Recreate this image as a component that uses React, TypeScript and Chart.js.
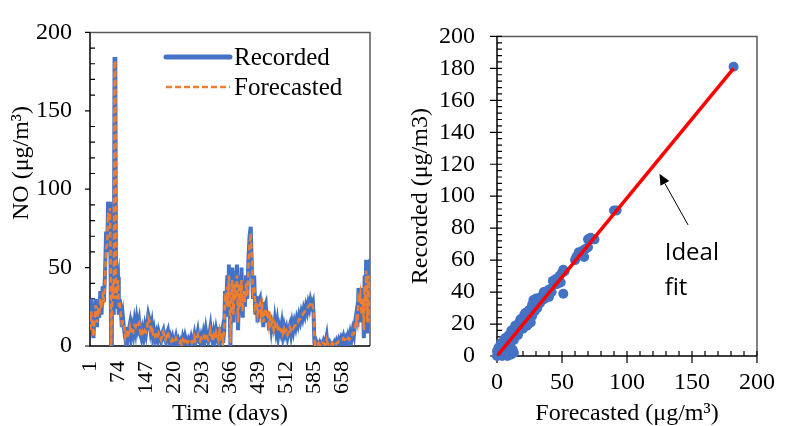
import React, { useEffect, useRef } from "react";
import { Chart, registerables } from "chart.js";
Chart.register(...registerables);

// ---- Time series (left panel) ----
const days = [
  1, 4, 7, 10, 13, 16, 19, 22, 25, 28,
  31, 34, 37, 40, 43, 46, 48, 51, 53, 55,
  56, 58, 61, 63, 65, 67, 69, 71, 74, 76,
  78, 81, 84, 87, 90, 93, 96, 99, 102, 105,
  108, 111, 114, 117, 120, 123, 126, 129, 132, 135,
  138, 141, 144, 147, 150, 153, 156, 159, 162, 165,
  168, 171, 174, 177, 180, 183, 186, 189, 192, 195,
  198, 201, 204, 207, 210, 213, 216, 219, 222, 225,
  228, 231, 234, 237, 240, 243, 246, 249, 252, 255,
  258, 261, 264, 267, 270, 273, 276, 279, 282, 285,
  288, 291, 294, 297, 300, 303, 306, 309, 312, 315,
  318, 321, 324, 327, 330, 333, 336, 339, 342, 345,
  348, 351, 353, 356, 359, 361, 363, 365, 367, 369,
  372, 375, 378, 381, 384, 387, 390, 393, 396, 399,
  402, 405, 408, 411, 414, 417, 420, 423, 426, 429,
  432, 435, 438, 441, 444, 447, 450, 453, 456, 459,
  462, 465, 468, 471, 474, 477, 480, 483, 486, 489,
  492, 495, 498, 501, 504, 507, 510, 513, 516, 519,
  522, 525, 528, 531, 534, 537, 540, 543, 546, 549,
  552, 555, 558, 561, 564, 567, 570, 573, 576, 579,
  582, 584, 586, 588, 591, 594, 597, 600, 603, 606,
  609, 612, 615, 618, 620, 623, 626, 629, 632, 635,
  638, 641, 644, 647, 650, 653, 656, 659, 662, 665,
  668, 671, 674, 677, 680, 683, 686, 689, 692, 695,
  698, 701, 703, 706, 709, 712, 715, 717, 719, 721,
  724, 727, 731,
];

const recorded = [
  30, 29, 12, 5, 22, 30, 12, 28, 18, 35,
  20, 38, 28, 45, 73, 60, 92, 88, 92, 40,
  0, 30, 45, 20, 183, 183, 25, 40, 44, 20,
  30, 25, 12, 18, 10, 5, 12, 4, 10, 14,
  6, 12, 8, 15, 10, 17, 12, 16, 8, 5,
  10, 6, 12, 8, 14, 20, 17, 10, 14, 6,
  10, 5, 8, 4, 9, 6, 3, 8, 10, 5,
  3, 8, 10, 4, 6, 2, 5, 1, 3, 6,
  2, 4, 1, 3, 0, 5, 2, 6, 3, 1,
  4, 2, 5, 1, 3, 7, 2, 5, 9, 3,
  2, 6, 3, 8, 4, 10, 5, 3, 7, 12,
  5, 2, 8, 4, 10, 6, 3, 12, 5, 9,
  2, 10, 35, 25, 45, 20, 52, 30, 0, 30,
  50, 15, 48, 25, 52, 10, 45, 20, 50, 18,
  38, 25, 45, 30, 55, 70, 76, 50, 30, 45,
  20, 32, 15, 28, 30, 18, 28, 12, 25, 27,
  15, 22, 10, 20, 12, 18, 8, 16, 10, 15,
  7, 12, 9, 14, 7, 12, 8, 11, 6, 10,
  13, 8, 14, 10, 15, 12, 17, 14, 19, 16,
  21, 18, 23, 20, 25, 22, 27, 24, 29, 26,
  28, 20, 2, 0, 3, 1, 0, 2, 0, 1,
  3, 0, 2, 6, 1, 0, 2, 0, 1, 0,
  2, 0, 3, 1, 4, 2, 5, 3, 6, 3,
  5, 2, 6, 3, 8, 5, 10, 7, 15, 20,
  12, 37, 25, 37, 15, 35, 5, 45, 20, 55,
  8, 52, 55,
];

const forecasted = [
  10, 22, 15, 6, 18, 26, 15, 22, 20, 30,
  24, 32, 30, 38, 62, 65, 85, 80, 88, 50,
  0, 20, 40, 30, 180, 182, 30, 35, 42, 25,
  28, 22, 14, 15, 12, 6, 10, 5, 8, 12,
  8, 10, 9, 13, 12, 15, 14, 15, 9, 6,
  9, 7, 10, 9, 12, 18, 16, 11, 13, 8,
  9, 6, 7, 5, 8, 6, 4, 7, 9, 6,
  4, 7, 9, 5, 5, 3, 4, 2, 3, 5,
  3, 3, 2, 3, 1, 4, 3, 5, 3, 2,
  3, 3, 4, 2, 3, 6, 3, 4, 7, 4,
  3, 5, 4, 6, 5, 8, 6, 4, 6, 10,
  6, 3, 7, 5, 9, 7, 4, 10, 6, 8,
  3, 12, 30, 28, 38, 25, 45, 35, 2, 25,
  42, 20, 40, 30, 45, 15, 40, 25, 42, 22,
  35, 28, 40, 32, 50, 65, 72, 55, 35, 38,
  25, 28, 20, 25, 27, 20, 25, 15, 22, 24,
  18, 20, 13, 18, 14, 16, 10, 14, 11, 13,
  9, 11, 10, 12, 8, 11, 9, 10, 7, 9,
  12, 10, 12, 11, 13, 13, 15, 15, 17, 17,
  19, 20, 21, 22, 23, 24, 25, 26, 27, 28,
  25, 22, 5, 1, 2, 1, 2, 1, 0, 2,
  2, 1, 1, 4, 2, 1, 1, 0, 2, 1,
  1, 0, 2, 2, 3, 3, 4, 4, 5, 4,
  4, 3, 5, 4, 6, 6, 8, 8, 12, 17,
  14, 30, 28, 33, 20, 30, 10, 38, 25, 48,
  15, 45, 15,
];

const timeTicks = [1, 74, 147, 220, 293, 366, 439, 512, 585, 658];
const timeTickLabels = ["1", "74", "147", "220", "293", "366", "439", "512", "585", "658"];

// ---- Scatter (right panel) ----
const scatterForecasted = [
  0, 1, 2, 0, 1, 3, 2, 4, 5, 6,
  3, 5, 7, 8, 9, 10, 11, 6, 4, 8,
  7, 9, 10, 8, 6, 12, 11, 12, 13, 14,
  15, 16, 17, 18, 19, 20, 21, 22, 23, 24,
  25, 13, 16, 20, 24, 26, 14, 18, 21, 26,
  27, 28, 29, 30, 31, 32, 33, 34, 35, 36,
  37, 38, 39, 40, 41, 42, 43, 44, 28, 30,
  29, 45, 46, 47, 48, 50, 51, 52, 49, 51,
  60, 61, 62, 63, 64, 66, 67, 68, 70, 70,
  72, 74, 75, 90, 92, 182, 13, 12, 9, 11,
  15, 17, 19, 22, 25, 27, 31, 34, 36, 16,
  10, 23,
];
const scatterRecorded = [
  0, 2, 1, 3, 5, 3, 6, 2, 5, 3,
  8, 9, 6, 2, 1, 3, 1, 1, 0, 0,
  9, 7, 10, 12, 11, 11, 14, 16, 13, 17,
  15, 19, 16, 20, 18, 22, 20, 25, 21, 26,
  23, 10, 13, 17, 20, 21, 19, 23, 26, 28,
  25, 31, 28, 35, 30, 36, 33, 37, 35, 38,
  36, 40, 41, 37, 42, 40, 47, 45, 35, 36,
  34, 48, 45, 47, 50, 52, 54, 53, 46, 39,
  60, 62, 63, 65, 64, 66, 62, 67, 68, 73,
  74, 73, 73, 91, 91, 181, 2, 4, 13, 16,
  18, 21, 23, 27, 29, 32, 34, 36, 40, 14,
  7, 19,
];

const fitX = [0, 182];
const fitY = [0, 180];

const arrowFrom = [147, 82];
const arrowTo = [125, 114];
const noteAt = [129, 60];
const noteLines = ["Ideal", "fit"];

const SERIF = '"Liberation Serif", "Times New Roman", serif';
const BLUE = "#4472C4";
const ORANGE = "#ED7D31";

type FrameCfg = {
  yMajor: number; yMinor: number; yOut: number; yIn: number; yMinorIn: number;
  xMajor?: number; xMinor?: number; xOut?: number; xIn?: number; xMinorIn?: number;
};

function framePlugin(cfg: FrameCfg) {
  return {
    id: "frameAxes",
    beforeDatasetsDraw(chart: any) {
      const { ctx, chartArea: a, scales } = chart;
      const xs = scales.x, ys = scales.y;
      ctx.save();
      ctx.lineCap = "butt";
      ctx.strokeStyle = "#595959";
      ctx.lineWidth = 1.5;
      ctx.beginPath();
      ctx.moveTo(a.left, a.top);
      ctx.lineTo(a.right, a.top);
      ctx.lineTo(a.right, a.bottom);
      ctx.stroke();
      ctx.strokeStyle = "#000";
      ctx.beginPath();
      ctx.moveTo(a.left, a.top);
      ctx.lineTo(a.left, a.bottom);
      ctx.lineTo(a.right, a.bottom);
      ctx.stroke();
      ctx.lineWidth = 1.2;
      ctx.beginPath();
      for (let v = ys.min; v <= ys.max; v += cfg.yMinor) {
        const py = ys.getPixelForValue(v);
        if (v % cfg.yMajor === 0) {
          ctx.moveTo(a.left - cfg.yOut, py);
          ctx.lineTo(a.left + cfg.yIn, py);
        } else {
          ctx.moveTo(a.left, py);
          ctx.lineTo(a.left + cfg.yMinorIn, py);
        }
      }
      if (cfg.xMajor && cfg.xMinor) {
        for (let v = xs.min; v <= xs.max; v += cfg.xMinor) {
          const px = xs.getPixelForValue(v);
          if (v % cfg.xMajor === 0) {
            ctx.moveTo(px, a.bottom + (cfg.xOut || 0));
            ctx.lineTo(px, a.bottom - (cfg.xIn || 0));
          } else {
            ctx.moveTo(px, a.bottom);
            ctx.lineTo(px, a.bottom - (cfg.xMinorIn || 0));
          }
        }
      }
      ctx.stroke();
      ctx.restore();
    },
  };
}

const legendPlugin = {
  id: "insideLegend",
  afterDatasetsDraw(chart: any) {
    const { ctx } = chart;
    const ds = chart.data.datasets;
    ctx.save();
    ds.forEach((d: any, i: number) => {
      const y = 57 + i * 30;
      ctx.beginPath();
      ctx.strokeStyle = d.borderColor;
      ctx.lineWidth = d.borderWidth + (i === 0 ? 1 : 0);
      ctx.lineCap = i === 0 ? "round" : "butt";
      ctx.setLineDash(d.borderDash || []);
      ctx.moveTo(166, y);
      ctx.lineTo(230, y);
      ctx.stroke();
      ctx.setLineDash([]);
      ctx.fillStyle = "#000";
      ctx.font = `25px ${SERIF}`;
      ctx.textBaseline = "middle";
      ctx.textAlign = "left";
      ctx.fillText(d.label, 234, y + 1);
    });
    ctx.restore();
  },
};

const leftTitlePlugin = {
  id: "leftYTitle",
  afterDraw(chart: any) {
    const { ctx } = chart;
    ctx.save();
    ctx.translate(22, 163);
    ctx.rotate(-Math.PI / 2);
    ctx.fillStyle = "#000";
    ctx.font = `24px ${SERIF}`;
    ctx.textAlign = "center";
    ctx.textBaseline = "middle";
    ctx.fillText("NO (\u03bcg/m\u00b3)", 0, 0);
    ctx.restore();
  },
};

const notePlugin = {
  id: "idealFitNote",
  afterDatasetsDraw(chart: any) {
    const { ctx, scales } = chart;
    const xs = scales.x, ys = scales.y;
    const x0 = xs.getPixelForValue(arrowFrom[0]), y0 = ys.getPixelForValue(arrowFrom[1]);
    const x1 = xs.getPixelForValue(arrowTo[0]), y1 = ys.getPixelForValue(arrowTo[1]);
    ctx.save();
    ctx.strokeStyle = "#000";
    ctx.fillStyle = "#000";
    ctx.lineWidth = 1;
    const ang = Math.atan2(y1 - y0, x1 - x0);
    const hl = 11, hw = 5;
    const bx = x1 - hl * Math.cos(ang), by = y1 - hl * Math.sin(ang);
    ctx.beginPath();
    ctx.moveTo(x0, y0);
    ctx.lineTo(bx, by);
    ctx.stroke();
    ctx.beginPath();
    ctx.moveTo(x1, y1);
    ctx.lineTo(bx + hw * Math.sin(ang), by - hw * Math.cos(ang));
    ctx.lineTo(bx - hw * Math.sin(ang), by + hw * Math.cos(ang));
    ctx.closePath();
    ctx.fill();
    ctx.font = '24px "Open Sans", Lato, sans-serif';
    ctx.textAlign = "left";
    ctx.textBaseline = "alphabetic";
    const tx = xs.getPixelForValue(noteAt[0]);
    const ty = ys.getPixelForValue(noteAt[1]);
    noteLines.forEach((t, i) => ctx.fillText(t, tx, ty + i * 35));
    ctx.restore();
  },
};

export default function App() {
  const leftRef = useRef<HTMLCanvasElement>(null);
  const rightRef = useRef<HTMLCanvasElement>(null);

  useEffect(() => {
    const tickFont24 = { family: SERIF, size: 24 };
    const left = new Chart(leftRef.current as HTMLCanvasElement, {
      type: "line",
      data: {
        datasets: [
          {
            label: "Recorded",
            data: days.map((d, i) => ({ x: d, y: recorded[i] })),
            borderColor: BLUE,
            borderWidth: 4,
            pointRadius: 0,
            tension: 0,
            order: 2,
          },
          {
            label: "Forecasted",
            data: days.map((d, i) => ({ x: d, y: forecasted[i] })),
            borderColor: ORANGE,
            borderWidth: 2.5,
            borderDash: [6, 3],
            pointRadius: 0,
            tension: 0,
            order: 1,
          },
        ],
      },
      options: {
        animation: false,
        responsive: false,
        events: [],
        layout: { padding: { top: 28, right: 23, left: 0, bottom: 0 } },
        plugins: { legend: { display: false }, tooltip: { enabled: false } },
        scales: {
          x: {
            type: "linear",
            min: 1,
            max: 731,
            afterBuildTicks: (s: any) => {
              s.ticks = timeTicks.map((v) => ({ value: v }));
            },
            afterFit: (s: any) => {
              s.height = 80;
            },
            ticks: {
              autoSkip: false,
              maxRotation: 90,
              minRotation: 90,
              padding: 15,
              color: "#000",
              font: { family: SERIF, size: 22 },
              callback: (_v: any, i: number) => timeTickLabels[i],
            },
            grid: { display: false, drawTicks: false },
            border: { display: false },
            title: {
              display: true,
              text: "Time (days)",
              color: "#000",
              font: { family: SERIF, size: 24, lineHeight: 1 },
              padding: 0,
            },
          },
          y: {
            min: 0,
            max: 200,
            afterFit: (s: any) => {
              s.width = 90;
            },
            ticks: { stepSize: 50, padding: 18, color: "#000", font: tickFont24 },
            grid: { display: false, drawTicks: false },
            border: { display: false },
          },
        },
      } as any,
      plugins: [
        framePlugin({ yMajor: 50, yMinor: 10, yOut: 5, yIn: 0, yMinorIn: 5 }),
        legendPlugin,
        leftTitlePlugin,
      ],
    });

    const right = new Chart(rightRef.current as HTMLCanvasElement, {
      type: "scatter",
      data: {
        datasets: [
          {
            type: "line",
            label: "Ideal fit",
            data: fitX.map((x, i) => ({ x, y: fitY[i] })),
            borderColor: "#FF0000",
            borderWidth: 3.5,
            pointRadius: 0,
            order: 1,
          } as any,
          {
            label: "Recorded vs Forecasted",
            data: scatterForecasted.map((x, i) => ({ x, y: scatterRecorded[i] })),
            backgroundColor: BLUE,
            borderColor: BLUE,
            borderWidth: 0,
            pointRadius: 5,
            clip: false,
            order: 2,
          } as any,
        ],
      },
      options: {
        animation: false,
        responsive: false,
        events: [],
        layout: { padding: { top: 22, right: 19, left: 0, bottom: 0 } },
        plugins: { legend: { display: false }, tooltip: { enabled: false } },
        scales: {
          x: {
            type: "linear",
            min: 0,
            max: 200,
            afterFit: (s: any) => {
              s.height = 70;
            },
            ticks: { stepSize: 50, padding: 12, color: "#000", font: tickFont24, maxRotation: 0 },
            grid: { display: false, drawTicks: false },
            border: { display: false },
            title: {
              display: true,
              text: "Forecasted (\u03bcg/m\u00b3)",
              color: "#000",
              font: { family: SERIF, size: 24, lineHeight: 1 },
              padding: 0,
            },
          },
          y: {
            min: 0,
            max: 200,
            afterFit: (s: any) => {
              s.width = 104;
            },
            ticks: { stepSize: 20, padding: 22, color: "#000", font: tickFont24 },
            grid: { display: false, drawTicks: false },
            border: { display: false },
            title: {
              display: true,
              text: "Recorded (\u03bcg/m3)",
              color: "#000",
              font: { family: SERIF, size: 24, lineHeight: 1 },
              padding: { top: 16, bottom: 0 },
            },
          },
        },
      } as any,
      plugins: [
        framePlugin({
          yMajor: 20, yMinor: 4, yOut: 7, yIn: 5, yMinorIn: 5,
          xMajor: 50, xMinor: 10, xOut: 7, xIn: 5, xMinorIn: 5,
        }),
        notePlugin,
      ],
    });

    return () => {
      left.destroy();
      right.destroy();
    };
  }, []);

  return (
    <div style={{ position: "absolute", left: 0, top: 0, width: 787, height: 426, background: "#fff" }}>
      <canvas ref={leftRef} width={393} height={426} style={{ position: "absolute", left: 0, top: 0 }} />
      <canvas ref={rightRef} width={394} height={426} style={{ position: "absolute", left: 393, top: 0 }} />
    </div>
  );
}
